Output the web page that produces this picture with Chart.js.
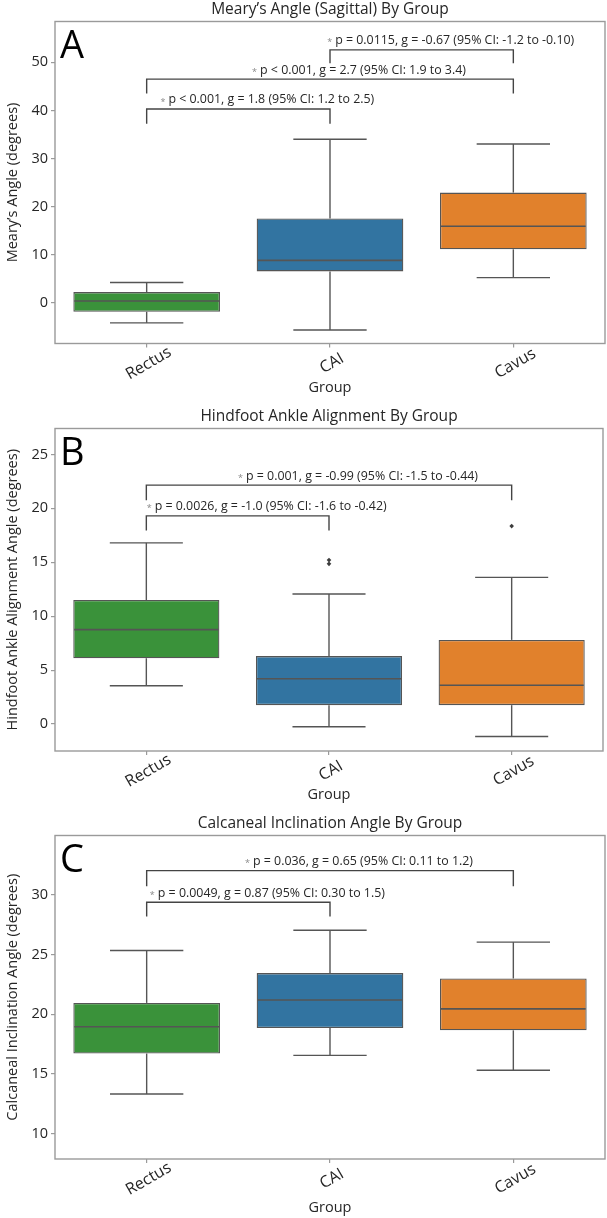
<!DOCTYPE html>
<html>
<head>
<meta charset="utf-8">
<script src="https://cdn.jsdelivr.net/npm/chart.js@4.4.1/dist/chart.umd.min.js"></script>
<style>
    body { margin: 0; background: #fff; }
    canvas { display: block; }
</style>
</head>
<body>
<canvas id="chart-a" width="607" height="407"></canvas>
<canvas id="chart-b" width="607" height="407"></canvas>
<canvas id="chart-c" width="607" height="404"></canvas>
<script>
const groups = ['Rectus', 'CAI', 'Cavus'];

// A - Meary's angle
const mearyMin = [-4.2, -5.7, 5.2];
const mearyQ1 = [-1.9, 6.5, 11.1];
const mearyMedian = [0.35, 8.8, 15.9];
const mearyQ3 = [2.2, 17.5, 22.9];
const mearyMax = [4.2, 34.0, 33.0];
const mearyOutlierGroup = [];
const mearyOutlierValue = [];
const mearyTicks = [0, 10, 20, 30, 40, 50];
const mearyPairs = [[0, 1], [0, 2], [1, 2]];
const mearyBracket = [40.3, 46.5, 52.6];
const mearyLeg = [37.2, 43.5, 49.8];
const mearyStats = [
    'p < 0.001, g = 1.8 (95% CI: 1.2 to 2.5)',
    'p < 0.001, g = 2.7 (95% CI: 1.9 to 3.4)',
    'p = 0.0115, g = -0.67 (95% CI: -1.2 to -0.10)'
];

// B - hindfoot ankle alignment
const hindMin = [3.55, -0.25, -1.15];
const hindQ1 = [6.1, 1.75, 1.75];
const hindMedian = [8.75, 4.2, 3.6];
const hindQ3 = [11.5, 6.3, 7.8];
const hindMax = [16.8, 12.05, 13.6];
const hindOutlierGroup = ['CAI', 'CAI', 'Cavus'];
const hindOutlierValue = [15.2, 14.85, 18.35];
const hindTicks = [0, 5, 10, 15, 20, 25];
const hindPairs = [[0, 1], [0, 2]];
const hindBracket = [19.3, 22.15];
const hindLeg = [17.95, 20.75];
const hindStats = [
    'p = 0.0026, g = -1.0 (95% CI: -1.6 to -0.42)',
    'p = 0.001, g = -0.99 (95% CI: -1.5 to -0.44)'
];

// C - calcaneal inclination
const calcMin = [13.3, 16.55, 15.3];
const calcQ1 = [16.7, 18.85, 18.65];
const calcMedian = [18.95, 21.2, 20.45];
const calcQ3 = [20.95, 23.45, 23.0];
const calcMax = [25.35, 27.05, 26.05];
const calcOutlierGroup = [];
const calcOutlierValue = [];
const calcTicks = [10, 15, 20, 25, 30];
const calcPairs = [[0, 1], [0, 2]];
const calcBracket = [29.4, 32.05];
const calcLeg = [28.2, 30.75];
const calcStats = [
    'p = 0.0049, g = 0.87 (95% CI: 0.30 to 1.5)',
    'p = 0.036, g = 0.65 (95% CI: 0.11 to 1.2)'
];

const fontFamily = "'Open Sans', 'Noto Sans', sans-serif";
const textColor = '#262626';
const lineColor = '#555555';
const frameColor = '#9a9a9a';
const boxColors = ['#3a923a', '#3274a1', '#e1812c'];

function line(c, x1, y1, x2, y2) {
    c.beginPath();
    c.moveTo(x1, y1);
    c.lineTo(x2, y2);
    c.stroke();
}

function boxPlot(canvasId, p) {
    const canvas = document.getElementById(canvasId);
    const ctx = canvas.getContext('2d');

    // bigotes, medianas, marco, corchetes y etiquetas
    const extras = {
        id: 'boxExtras',
        afterDatasetsDraw(chart) {
            const c = chart.ctx, x = chart.scales.x, y = chart.scales.y;
            const bars = chart.getDatasetMeta(0).data;
            c.save();
            c.strokeStyle = lineColor;
            c.lineWidth = 1.4;
            groups.forEach((g, i) => {
                const cx = x.getPixelForValue(i);
                const half = bars[i].width / 2;
                const yMax = y.getPixelForValue(p.max[i]);
                const yMin = y.getPixelForValue(p.min[i]);
                line(c, cx, y.getPixelForValue(p.q3[i]), cx, yMax);
                line(c, cx, y.getPixelForValue(p.q1[i]), cx, yMin);
                line(c, cx - half / 2, yMax, cx + half / 2, yMax);
                line(c, cx - half / 2, yMin, cx + half / 2, yMin);
                const yMed = y.getPixelForValue(p.median[i]);
                c.lineWidth = 1.6;
                line(c, cx - half + 1, yMed, cx + half - 1, yMed);
                c.lineWidth = 1.4;
            });
            c.restore();
        },
        afterDraw(chart) {
            const c = chart.ctx, x = chart.scales.x, y = chart.scales.y;
            const area = chart.chartArea;
            c.save();
            // marco
            c.strokeStyle = frameColor;
            c.lineWidth = 1.4;
            c.strokeRect(area.left, area.top, area.right - area.left, area.bottom - area.top);

            // etiquetas del eje X rotadas
            c.fillStyle = textColor;
            c.font = '16px ' + fontFamily;
            c.textAlign = 'center';
            c.textBaseline = 'middle';
            groups.forEach((g, i) => {
                c.save();
                c.translate(x.getPixelForTick(i) + 2, area.bottom + 20);
                c.rotate(-Math.PI / 6);
                c.fillText(g, 0, 0);
                c.restore();
            });

            // letra del panel
            c.font = '38px ' + fontFamily;
            c.textAlign = 'left';
            c.textBaseline = 'alphabetic';
            c.fillStyle = '#000';
            c.fillText(p.letter, area.left + 5, area.top + 36);

            // corchetes de significancia
            c.strokeStyle = '#444';
            c.lineWidth = 1.4;
            p.pairs.forEach((pair, k) => {
                const x1 = x.getPixelForValue(pair[0]);
                const x2 = x.getPixelForValue(pair[1]);
                const yb = y.getPixelForValue(p.bracket[k]);
                const yl = y.getPixelForValue(p.leg[k]);
                c.beginPath();
                c.moveTo(x1, yl);
                c.lineTo(x1, yb);
                c.lineTo(x2, yb);
                c.lineTo(x2, yl);
                c.stroke();

                c.font = '12.4px ' + fontFamily;
                const w = c.measureText(p.stats[k]).width;
                const starW = 8;
                const left = (x1 + x2) / 2 + 29 - (w + starW) / 2;
                const ty = yb - 9;
                c.textBaseline = 'middle';
                c.fillStyle = '#888';
                c.font = '9px ' + fontFamily;
                c.fillText('*', left, ty + 2);
                c.fillStyle = textColor;
                c.font = '12.4px ' + fontFamily;
                c.fillText(p.stats[k], left + starW, ty);
            });
            c.restore();
        }
    };

    return new Chart(ctx, {
        type: 'bar',
        data: {
            labels: groups,
            datasets: [{
                data: groups.map((g, i) => [p.q1[i], p.q3[i]]),
                backgroundColor: boxColors,
                borderColor: lineColor,
                borderWidth: 1.3,
                borderSkipped: false,
                barPercentage: 1,
                categoryPercentage: 0.8,
            }, {
                type: 'line',
                data: p.outGroup.map((g, i) => ({ x: g, y: p.outValue[i] })),
                showLine: false,
                pointStyle: 'rectRot',
                pointRadius: 2.3,
                backgroundColor: '#3d3d3d',
                borderColor: '#3d3d3d',
                borderWidth: 0,
            }]
        },
        options: {
            responsive: false,
            animation: false,
            layout: { padding: { left: 0, right: 2, top: 0, bottom: p.bottomPad } },
            plugins: {
                legend: { display: false },
                tooltip: { enabled: false },
                title: {
                    display: true,
                    text: p.title,
                    fullSize: false,
                    color: textColor,
                    font: { family: fontFamily, size: 15.5, weight: 'normal' },
                    padding: { top: 0, bottom: 2.9 },
                }
            },
            scales: {
                x: {
                    grid: { drawOnChartArea: false, drawTicks: true, tickLength: 4, offset: false, color: frameColor, lineWidth: 1.2 },
                    border: { display: false },
                    ticks: { display: false },
                    title: {
                        display: true,
                        text: 'Group',
                        color: textColor,
                        font: { family: fontFamily, size: 14.5 },
                        padding: { top: 0, bottom: 0 },
                    },
                    afterFit: (s) => { s.height = canvas.height - p.bottomPad - p.frameBottom; }
                },
                y: {
                    min: p.yMin,
                    max: p.yMax,
                    afterBuildTicks: (s) => { s.ticks = p.ticks.map((v) => ({ value: v })); },
                    grid: { drawOnChartArea: false, drawTicks: true, tickLength: 4, color: frameColor, lineWidth: 1.2 },
                    border: { display: false },
                    ticks: { color: textColor, font: { family: fontFamily, size: 14.5 }, padding: 3 },
                    title: {
                        display: true,
                        text: p.yTitle,
                        color: textColor,
                        font: { family: fontFamily, size: 14.5 },
                        padding: { top: 4, bottom: 0 },
                    },
                    afterFit: (s) => { s.width = 55; }
                }
            }
        },
        plugins: [extras]
    });
}

boxPlot('chart-a', {
    title: 'Meary\u2019s Angle (Sagittal) By Group',
    yTitle: 'Meary\u2019s Angle (degrees)',
    letter: 'A',
    yMin: -8.5, yMax: 58.5,
    ticks: mearyTicks,
    min: mearyMin, q1: mearyQ1, median: mearyMedian, q3: mearyQ3, max: mearyMax,
    outGroup: mearyOutlierGroup, outValue: mearyOutlierValue,
    pairs: mearyPairs, bracket: mearyBracket, leg: mearyLeg, stats: mearyStats,
    bottomPad: 10.6, frameBottom: 343.5,
});

boxPlot('chart-b', {
    title: 'Hindfoot Ankle Alignment By Group',
    yTitle: 'Hindfoot Ankle Alignment Angle (degrees)',
    letter: 'B',
    yMin: -2.5, yMax: 27.4,
    ticks: hindTicks,
    min: hindMin, q1: hindQ1, median: hindMedian, q3: hindQ3, max: hindMax,
    outGroup: hindOutlierGroup, outValue: hindOutlierValue,
    pairs: hindPairs, bracket: hindBracket, leg: hindLeg, stats: hindStats,
    bottomPad: 10.6, frameBottom: 344,
});

boxPlot('chart-c', {
    title: 'Calcaneal Inclination Angle By Group',
    yTitle: 'Calcaneal Inclination Angle (degrees)',
    letter: 'C',
    yMin: 7.85, yMax: 35,
    ticks: calcTicks,
    min: calcMin, q1: calcQ1, median: calcMedian, q3: calcQ3, max: calcMax,
    outGroup: calcOutlierGroup, outValue: calcOutlierValue,
    pairs: calcPairs, bracket: calcBracket, leg: calcLeg, stats: calcStats,
    bottomPad: 1.6, frameBottom: 345,
});
</script>
</body>
</html>
